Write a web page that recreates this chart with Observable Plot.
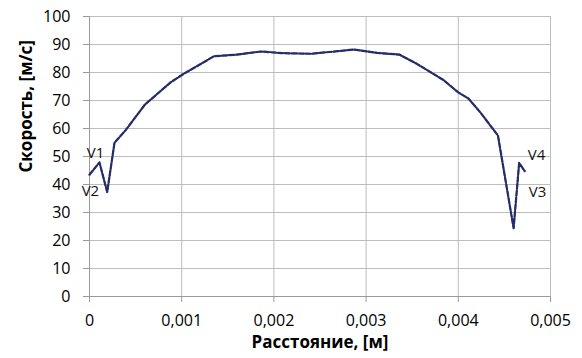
<!DOCTYPE html>
<html>
<head>
<meta charset="utf-8">
<script src="https://cdn.jsdelivr.net/npm/d3@7"></script>
<script src="https://cdn.jsdelivr.net/npm/@observablehq/plot@0.6"></script>
<style>
  html, body { margin: 0; padding: 0; background: #fff; }
</style>
</head>
<body>
<div id="chart"></div>
<script>
// Distance along profile, m
const distance = [0, 0.000108, 0.000192, 0.000271, 0.00039, 0.0006, 0.00088, 0.00102,
  0.00135, 0.0016, 0.00186, 0.0021, 0.0024, 0.00269, 0.00287, 0.00312, 0.00336,
  0.00355, 0.00384, 0.004, 0.00411, 0.00424, 0.00443, 0.0046, 0.00466, 0.00472];
// Velocity, m/s
const velocity = [43.5, 47.9, 37.3, 54.9, 59.3, 68.5, 76.5, 79.5,
  85.8, 86.4, 87.5, 86.9, 86.7, 87.6, 88.2, 87.0, 86.4,
  83.1, 77.3, 72.9, 70.7, 65.7, 57.5, 24.4, 47.7, 44.8];

const xTicks = [0, 0.001, 0.002, 0.003, 0.004, 0.005];
const yTicks = [0, 10, 20, 30, 40, 50, 60, 70, 80, 90, 100];

// Point annotations
const noteText = ["V1", "V2", "V4", "V3"];
const noteX = [0.000065, 0.00001, 0.004848, 0.004859];
const noteY = [51.1, 37.5, 50.4, 37.1];

const xTitle = "Расстояние, [м]";
const yTitle = "Скорость, [м/с]";

const data = distance.map((d, i) => ({x: d, y: velocity[i]}));
const notes = noteText.map((t, i) => ({t, x: noteX[i], y: noteY[i]}));

const fmt = d => d === 0 ? "0" : d.toFixed(3).replace(".", ",");

const chart = Plot.plot({
  width: 582,
  height: 358,
  marginLeft: 89,
  marginRight: 32,
  marginTop: 16,
  marginBottom: 62,
  style: {fontFamily: "'Open Sans', sans-serif", fontSize: "16px", color: "#000", background: "#fff"},
  x: {domain: [0, 0.005]},
  y: {domain: [0, 100]},
  marks: [
    Plot.gridX(xTicks, {stroke: "#bdbdbd", strokeOpacity: 1}),
    Plot.gridY(yTicks, {stroke: "#bdbdbd", strokeOpacity: 1}),
    Plot.ruleX([0], {stroke: "#9a9a9a"}),
    Plot.ruleY([0], {stroke: "#9a9a9a"}),
    Plot.axisX({ticks: xTicks, tickFormat: fmt, tickSize: 6, tickPadding: 12, stroke: "#9a9a9a", fontSize: 16, label: null}),
    Plot.axisY({ticks: yTicks, tickSize: 6, tickPadding: 13, stroke: "#9a9a9a", fontSize: 16, label: null}),
    Plot.line(data, {x: "x", y: "y", stroke: "#c0504d", strokeWidth: 1.6}),
    Plot.line(data, {x: "x", y: "y", stroke: "#1f2f6b", strokeWidth: 2.2, strokeDasharray: "5,2"}),
    Plot.text(notes, {x: "x", y: "y", text: "t", fontSize: 15, fill: "#111"}),
    Plot.text([xTitle], {frameAnchor: "bottom", dy: 51, fontSize: 17, fontWeight: "bold", fill: "#000"}),
    Plot.text([yTitle], {frameAnchor: "left", dx: -63, dy: 16, rotate: -90, fontSize: 17, fontWeight: "bold", fill: "#000"})
  ]
});
document.getElementById("chart").appendChild(chart);
</script>
</body>
</html>
